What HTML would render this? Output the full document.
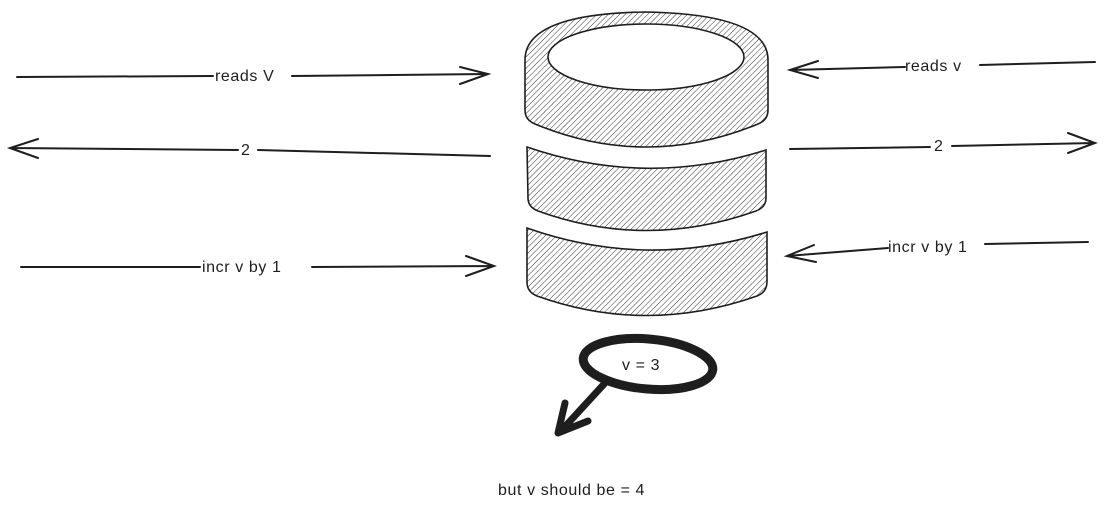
<!DOCTYPE html>
<html><head><meta charset="utf-8"><style>
html,body{margin:0;padding:0;background:#fff;width:1105px;height:511px;overflow:hidden}
text{font-family:"Liberation Sans",sans-serif;font-size:16px;fill:#1e1e1e;letter-spacing:0.6px}
</style></head><body>
<svg width="1105" height="511" viewBox="0 0 1105 511" xmlns="http://www.w3.org/2000/svg">
<defs>
<pattern id="h" width="4" height="4" patternUnits="userSpaceOnUse" patternTransform="rotate(45)">
<line x1="0" y1="0" x2="0" y2="4" stroke="#1e1e1e" stroke-width="0.9"/>
</pattern>
</defs>
<g stroke="#1e1e1e" stroke-width="1.6" fill="url(#h)">
<path d="M527,228 Q646,270 767,232 L767,282 Q767,292 757,296 Q646,335 537,296 Q527,292 527,282 Z"/>
<path d="M527,147 Q646,188 766,150 L766,198 Q766,207 756,211 Q646,250 538,211 Q528,207 528,198 Z"/>
<path d="M525,60 Q525,14 645,12 Q768,14 768,60 L768,110 Q768,120 758,124 Q646,170 535,124 Q525,120 525,110 Z"/>
</g>
<ellipse cx="646" cy="57" rx="98" ry="33" fill="#fff" stroke="#1e1e1e" stroke-width="1.6"/>
<g stroke="#1e1e1e" stroke-width="2" fill="none" stroke-linecap="round">
<path d="M17,77 L213,76 M292,76 L488,74 M460,67 L488,74 L460,84"/>
<path d="M10,148 L238,150 M258,150 L490,156 M38,139 L10,148 L38,158"/>
<path d="M21,267 L200,267 M312,267 L494,266 M466,256 L494,266 L466,276"/>
<path d="M1095,62 L980,65 M905,67 L790,70 M818,61 L790,70 L818,78"/>
<path d="M790,149 L930,147 M952,146 L1095,143 M1068,133 L1095,143 L1068,153"/>
<path d="M1088,242 L985,244 M888,248 L787,256 M814,245 L787,256 L816,262"/>
</g>
<text x="215" y="81">reads V</text>
<text x="241" y="155">2</text>
<text x="202" y="272">incr v by 1</text>
<text x="905" y="71">reads v</text>
<text x="934" y="151">2</text>
<text x="888" y="252">incr v by 1</text>
<ellipse cx="648" cy="364" rx="65" ry="25" fill="none" stroke="#1e1e1e" stroke-width="9" transform="rotate(5 648 364)"/>
<text x="622" y="370">v = 3</text>
<g stroke="#1e1e1e" stroke-width="7" fill="none" stroke-linecap="round" stroke-linejoin="round">
<path d="M605,383 L560,432 M565,403 L558,433 L588,421"/>
</g>
<text x="498" y="495">but v should be = 4</text>
</svg>
</body></html>
